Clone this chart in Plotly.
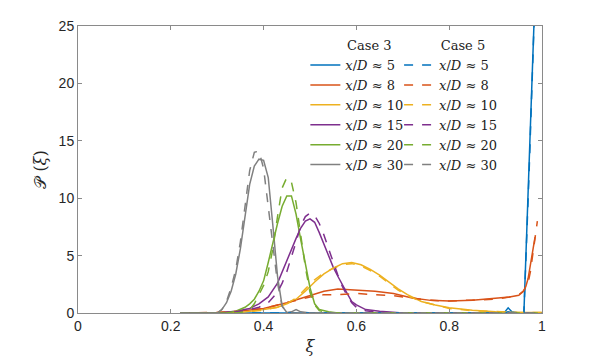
import plotly.graph_objects as go

# xi grid + PDF values (Case 3 solid, Case 5 dashed)
xi_30 = [0.22, 0.30, 0.31, 0.32, 0.33, 0.34, 0.35, 0.36, 0.37, 0.38, 0.39, 0.40, 0.41, 0.42, 0.43, 0.44, 0.45, 0.46, 0.47, 0.48, 0.50, 1.0]
c3_30 = [0, 0, 0.3, 0.9, 1.9, 3.4, 5.6, 8.6, 11.2, 12.8, 13.4, 13.3, 11.8, 7.6, 3.2, 0.6, 0.05, 0.1, 0.3, 0.1, 0, 0]
c5_30 = [0, 0, 0.3, 1.0, 2.2, 3.8, 6.2, 9.4, 12.4, 14.0, 14.1, 12.6, 9.4, 5.8, 2.6, 0.6, 0.05, 0, 0, 0, 0, 0]

xi_20 = [0.22, 0.32, 0.34, 0.36, 0.37, 0.38, 0.39, 0.40, 0.41, 0.42, 0.43, 0.44, 0.45, 0.46, 0.47, 0.48, 0.49, 0.50, 0.51, 0.52, 0.54, 0.56, 1.0]
c3_20 = [0, 0, 0.15, 0.5, 0.8, 1.2, 1.9, 2.8, 4.4, 6.2, 7.8, 9.3, 10.2, 10.2, 8.6, 6.4, 4.2, 2.2, 0.8, 0.3, 0.1, 0, 0]
c5_20 = [0, 0, 0, 0.1, 0.3, 0.8, 1.6, 2.4, 3.6, 5.6, 8.4, 10.9, 11.8, 11.4, 9.6, 6.8, 4.0, 1.8, 0.7, 0.2, 0, 0, 0]

xi_15 = [0.22, 0.30, 0.34, 0.37, 0.39, 0.41, 0.43, 0.44, 0.45, 0.46, 0.47, 0.48, 0.49, 0.50, 0.51, 0.52, 0.53, 0.54, 0.55, 0.56, 0.57, 0.58, 0.59, 0.60, 0.62, 0.65, 0.70, 1.0]
c3_15 = [0, 0, 0.15, 0.4, 0.8, 1.4, 2.6, 3.6, 4.6, 5.6, 6.5, 7.4, 8.0, 8.2, 7.9, 7.0, 6.0, 5.0, 4.0, 3.2, 2.4, 1.7, 1.0, 0.7, 0.3, 0.15, 0, 0]
c5_15 = [0, 0, 0.1, 0.3, 0.5, 0.9, 1.8, 2.6, 3.6, 4.8, 6.2, 7.6, 8.4, 8.7, 8.5, 7.8, 6.8, 5.6, 4.4, 3.3, 2.3, 1.5, 0.9, 0.5, 0.2, 0.05, 0, 0]

xi_10 = [0.22, 0.30, 0.35, 0.40, 0.43, 0.45, 0.47, 0.49, 0.51, 0.53, 0.55, 0.57, 0.59, 0.61, 0.63, 0.65, 0.67, 0.69, 0.71, 0.74, 0.77, 0.80, 0.85, 0.90, 0.95, 1.0]
c3_10 = [0, 0, 0.05, 0.3, 0.5, 0.8, 1.2, 1.9, 2.7, 3.4, 3.9, 4.3, 4.4, 4.2, 3.8, 3.3, 2.7, 2.1, 1.6, 1.0, 0.7, 0.45, 0.25, 0.1, 0.05, 0.05]
c5_10 = [0, 0, 0.05, 0.25, 0.5, 0.8, 1.3, 2.1, 2.9, 3.5, 3.9, 4.2, 4.3, 4.1, 3.7, 3.2, 2.6, 2.0, 1.5, 1.0, 0.7, 0.4, 0.2, 0.1, 0.05, 0.05]

xi_8 = [0.22, 0.30, 0.35, 0.40, 0.45, 0.50, 0.53, 0.56, 0.60, 0.64, 0.68, 0.72, 0.76, 0.80, 0.85, 0.90, 0.93, 0.95, 0.96, 0.965, 0.97, 0.975, 0.98, 0.985, 0.99]
c3_8 = [0, 0.05, 0.15, 0.4, 0.9, 1.5, 1.9, 2.1, 2.0, 1.9, 1.7, 1.3, 1.1, 1.05, 1.1, 1.3, 1.4, 1.55, 1.9, 2.3, 3.0, 4.2, 5.4, 6.6, None]
c5_8 = [0, 0.05, 0.15, 0.4, 0.9, 1.4, 1.6, 1.6, 1.7, 1.6, 1.5, 1.3, 1.1, 1.05, 1.1, 1.2, 1.4, 1.6, 1.9, 2.2, 2.6, 3.6, 5.0, 6.4, 8.0]

xi_5 = [0.22, 0.90, 0.92, 0.927, 0.935, 0.95, 0.961, 0.972, 0.986]
c3_5 = [0, 0, 0.1, 0.45, 0.1, 0, 0, 12, 29]
c5_5 = [0, 0, 0, 0.1, 0, 0, 0, 12, 29]

labels = ["5", "8", "10", "15", "20", "30"]
colors = ["#0072BD", "#D95319", "#EDB120", "#7E2F8E", "#77AC30", "#808080"]
xs = [xi_5, xi_8, xi_10, xi_15, xi_20, xi_30]
case3 = [c3_5, c3_8, c3_10, c3_15, c3_20, c3_30]
case5 = [c5_5, c5_8, c5_10, c5_15, c5_20, c5_30]

fig = go.Figure()

for x, y, lab, col in zip(xs, case3, labels, colors):
    fig.add_trace(go.Scatter(x=x, y=y, mode='lines', legend='legend',
                             name=f"<i>x</i>/<i>D</i> ≈ {lab}",
                             line=dict(color=col, width=1.5)))

for x, y, lab, col in zip(xs, case5, labels, colors):
    fig.add_trace(go.Scatter(x=x, y=y, mode='lines', legend='legend2',
                             name=f"<i>x</i>/<i>D</i> ≈ {lab}",
                             line=dict(color=col, width=1.5, dash='dash')))

leg_font = dict(family="DejaVu Serif", size=13, color="#222")
leg = dict(bgcolor='rgba(0,0,0,0)', borderwidth=0, tracegroupgap=0,
           font=leg_font, itemwidth=30, yanchor='top')
pad = "&nbsp;" * 6  # nudges the centred header over the labels

axis = dict(showline=True, linecolor="#8a8a8a", linewidth=1, mirror='ticks',
            ticks='inside', ticklen=4, tickcolor="#8a8a8a", showgrid=False, zeroline=False,
            automargin=False,
            tickfont=dict(family="Liberation Sans", size=14, color="#262626"))

# page body adds ~8px offset, so the figure is a bit smaller than the window
fig.update_layout(
    width=591, height=350,
    margin=dict(l=70, r=57, t=18, b=45),
    plot_bgcolor='white', paper_bgcolor='white',
    showlegend=True,
    legend=dict(leg, x=0.49, y=0.975,
                title=dict(text=pad + "Case 3", side='top center', font=leg_font)),
    legend2=dict(leg, x=0.692, y=0.975,
                 title=dict(text=pad + "Case 5", side='top center', font=leg_font)),
    xaxis=dict(axis, range=[0, 1], tickvals=[0, 0.2, 0.4, 0.6, 0.8, 1],
               ticktext=["0", "0.2", "0.4", "0.6", "0.8", "1"],
               title=dict(text="<i>ξ</i>", standoff=8,
                          font=dict(family="DejaVu Serif", size=16, color="#262626"))),
    yaxis=dict(axis, range=[0, 25], tickvals=[0, 5, 10, 15, 20, 25],
               title=dict(text="𝒫 (<i>ξ</i>)", standoff=8,
                          font=dict(family="DejaVu Serif", size=16, color="#262626"))),
)

fig.write_html("out.html")
